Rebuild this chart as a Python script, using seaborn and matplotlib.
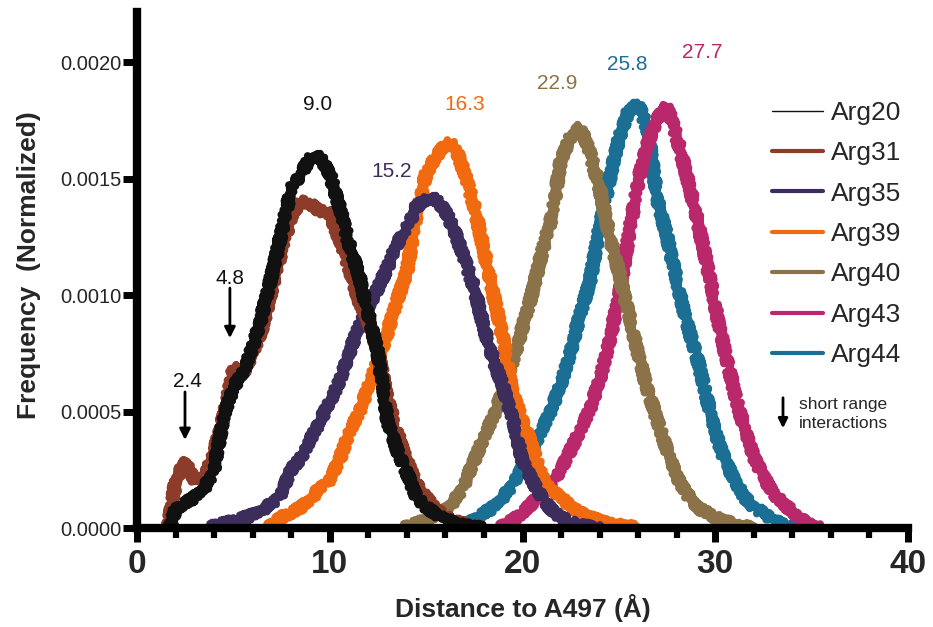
import numpy as np
import pandas as pd
import seaborn as sns
import matplotlib.pyplot as plt
from matplotlib.lines import Line2D
from matplotlib.ticker import MultipleLocator, FormatStrFormatter

# Distancia (Å) y frecuencia (x 1e-4)
dist_arg20 = [1.7, 2.0, 2.5, 3.0, 3.5, 4.0, 4.5, 5.0, 5.5, 6.0, 6.5, 7.0, 7.5, 8.0, 8.5, 9.0, 9.5,
              10.0, 10.5, 11.0, 11.5, 12.0, 12.5, 13.0, 13.5, 14.0, 14.5, 15.0, 15.5, 16.0, 16.5,
              17.0, 17.5, 18.0]
freq_arg20 = [0.0, 0.8, 1.07, 1.33, 1.72, 2.5, 4.8, 6.05, 6.65, 7.8, 9.2, 10.9, 12.7, 14.6, 15.2,
              15.9, 15.9, 15.2, 13.8, 12.2, 10.9, 9.2, 7.5, 4.6, 3.35, 2.36, 1.33, 0.9, 0.6, 0.4,
              0.2, 0.1, 0.05, 0.0]

dist_arg31 = [1.6, 2.0, 2.5, 3.0, 3.5, 4.0, 4.5, 5.0, 5.5, 6.0, 6.5, 7.0, 7.5, 8.0, 8.5, 9.0, 9.5,
              10.0, 10.5, 11.0, 11.5, 12.0, 12.5, 13.0, 13.5, 14.0, 14.5, 15.0, 15.5, 16.0, 16.5,
              17.0, 17.5, 18.0]
freq_arg31 = [0.0, 2.0, 2.9, 2.0, 2.1, 3.3, 4.8, 6.9, 6.65, 7.5, 8.6, 10.3, 11.9, 13.4, 14.0, 13.9,
              13.6, 13.5, 12.4, 11.2, 9.8, 8.9, 7.6, 5.5, 4.1, 2.9, 1.9, 1.3, 0.8, 0.5, 0.3, 0.15,
              0.05, 0.0]

dist_arg35 = [3.8, 4.0, 4.5, 5.0, 5.5, 6.0, 6.5, 7.0, 7.5, 8.0, 8.5, 9.0, 9.5, 10.0, 10.5, 11.0,
              11.5, 12.0, 12.5, 13.0, 13.5, 14.0, 14.5, 15.0, 15.5, 16.0, 16.5, 17.0, 17.5, 18.0,
              18.5, 19.0, 19.5, 20.0, 20.5, 21.0, 21.5, 22.0, 22.5, 23.0, 23.5, 24.0]
freq_arg35 = [0.0, 0.1, 0.2, 0.3, 0.43, 0.56, 0.77, 1.07, 1.5, 2.5, 3.0, 3.8, 4.6, 5.4, 6.3, 7.5,
              8.6, 9.5, 10.3, 11.2, 12.2, 12.9, 13.8, 14.1, 14.1, 13.6, 12.7, 11.5, 10.3, 8.6, 7.2,
              6.05, 4.6, 2.9, 2.06, 1.33, 0.77, 0.45, 0.25, 0.12, 0.05, 0.0]

dist_arg39 = [6.8, 7.0, 7.5, 8.0, 8.5, 9.0, 9.5, 10.0, 10.5, 11.0, 11.5, 12.0, 12.5, 13.0, 13.5,
              14.0, 14.5, 15.0, 15.5, 16.0, 16.5, 17.0, 17.5, 18.0, 18.5, 19.0, 19.5, 20.0, 20.5,
              21.0, 21.5, 22.0, 22.5, 23.0, 23.5, 24.0, 24.5, 25.0, 25.5, 26.0]
freq_arg39 = [0.0, 0.15, 0.47, 0.64, 0.9, 1.2, 1.76, 2.06, 2.9, 4.1, 4.9, 6.05, 7.2, 8.4, 9.8, 11.0,
              13.5, 15.2, 15.9, 16.5, 16.4, 15.2, 13.8, 11.9, 10.0, 8.1, 5.8, 4.6, 3.5, 2.2, 1.6,
              1.33, 0.9, 0.64, 0.47, 0.3, 0.2, 0.12, 0.06, 0.0]

dist_arg40 = [13.8, 14.0, 14.5, 15.0, 15.5, 16.0, 16.5, 17.0, 17.5, 18.0, 18.5, 19.0, 19.5, 20.0,
              20.5, 21.0, 21.5, 22.0, 22.5, 23.0, 23.5, 24.0, 24.5, 25.0, 25.5, 26.0, 26.5, 27.0,
              27.5, 28.0, 28.5, 29.0, 29.5, 30.0, 30.5, 31.0, 31.5, 32.0]
freq_arg40 = [0.0, 0.05, 0.2, 0.34, 0.56, 0.77, 1.2, 1.9, 2.9, 3.9, 4.8, 5.9, 7.2, 8.6, 10.1, 11.8,
              13.3, 15.8, 16.8, 17.2, 16.1, 14.6, 12.6, 11.0, 9.2, 7.5, 5.9, 4.6, 3.35, 2.2, 1.5,
              0.9, 0.7, 0.45, 0.3, 0.15, 0.07, 0.0]

dist_arg43 = [18.8, 19.0, 19.5, 20.0, 20.5, 21.0, 21.5, 22.0, 22.5, 23.0, 23.5, 24.0, 24.5, 25.0,
              25.5, 26.0, 26.5, 27.0, 27.5, 28.0, 28.5, 29.0, 29.5, 30.0, 30.5, 31.0, 31.5, 32.0,
              32.5, 33.0, 33.5, 34.0, 34.5, 35.0, 35.5]
freq_arg43 = [0.0, 0.1, 0.34, 0.64, 1.07, 1.5, 1.9, 2.5, 3.35, 4.2, 5.1, 6.35, 8.0, 9.9, 12.5, 14.9,
              16.5, 17.6, 18.1, 16.8, 15.2, 13.5, 11.6, 9.5, 7.6, 5.8, 4.3, 3.05, 2.2, 1.5, 1.07,
              0.7, 0.35, 0.1, 0.0]

dist_arg44 = [16.5, 17.0, 17.5, 18.0, 18.5, 19.0, 19.5, 20.0, 20.5, 21.0, 21.5, 22.0, 22.5, 23.0,
              23.5, 24.0, 24.5, 25.0, 25.5, 26.0, 26.5, 27.0, 27.5, 28.0, 28.5, 29.0, 29.5, 30.0,
              30.5, 31.0, 31.5, 32.0, 32.5, 33.0, 33.5, 34.0, 34.5]
freq_arg44 = [0.0, 0.15, 0.34, 0.64, 0.9, 1.33, 1.9, 2.6, 3.35, 4.2, 5.1, 6.2, 7.6, 9.2, 10.6, 12.9,
              14.9, 16.7, 17.9, 18.2, 17.1, 14.1, 12.5, 10.6, 8.9, 7.5, 5.8, 4.1, 2.9, 2.06, 1.33,
              0.9, 0.64, 0.35, 0.15, 0.05, 0.0]

residuos = ['Arg20', 'Arg31', 'Arg35', 'Arg39', 'Arg40', 'Arg43', 'Arg44']
colores = ['#111111', '#8c3c28', '#3d2d5c', '#f26a10', '#8c7248', '#b8286a', '#1b6f95']
series = {
    'Arg20': (dist_arg20, freq_arg20),
    'Arg31': (dist_arg31, freq_arg31),
    'Arg35': (dist_arg35, freq_arg35),
    'Arg39': (dist_arg39, freq_arg39),
    'Arg40': (dist_arg40, freq_arg40),
    'Arg43': (dist_arg43, freq_arg43),
    'Arg44': (dist_arg44, freq_arg44),
}

# etiquetas de los picos: (texto, x, y, color)
picos = [
    ('9.0', 9.38, 0.00182, '#111111'),
    ('16.3', 17.0, 0.00182, '#f26a10'),
    ('15.2', 13.2, 0.00153, '#3d2d5c'),
    ('22.9', 21.8, 0.00191, '#8c7248'),
    ('25.8', 25.44, 0.00199, '#1b6f95'),
    ('27.7', 29.3, 0.00204, '#b8286a'),
    ('4.8', 4.82, 0.00107, '#111111'),
    ('2.4', 2.64, 0.000627, '#111111'),
]

sns.set_style('ticks')
plt.rcParams['font.family'] = ['Liberation Sans', 'DejaVu Sans']

W, H = 933, 627
fig = plt.figure(figsize=(W / 100, H / 100), dpi=100)
ax = fig.add_axes([137 / W, 1 - 528 / H, (908 - 137) / W, (528 - 12) / H])

# dibujar en orden inverso para que Arg20 quede encima
for nombre in reversed(residuos):
    d, f = series[nombre]
    df = pd.DataFrame({'dist': d, 'freq': np.array(f) * 1e-4})
    color = colores[residuos.index(nombre)]
    sns.lineplot(data=df, x='dist', y='freq', color=color, lw=5.5, ax=ax, legend=False)
    # trazo "ruidoso" para imitar el histograma original
    ax.lines[-1].set_sketch_params(scale=4, length=2, randomness=1.5)

for texto, x, y, c in picos:
    ax.text(x, y, texto, color=c, fontsize=15, ha='center', va='center')

# flechas de interacciones de corto alcance
flecha = dict(arrowstyle='-|>', color='black', lw=2, mutation_scale=16, shrinkA=0, shrinkB=0)
ax.annotate('', xy=(4.82, 0.000815), xytext=(4.82, 0.00103), arrowprops=flecha)
ax.annotate('', xy=(2.49, 0.000378), xytext=(2.49, 0.000584), arrowprops=flecha)

ax.set_xlim(0, 40)
ax.set_ylim(0, 0.002215)
ax.xaxis.set_major_locator(MultipleLocator(10))
ax.xaxis.set_minor_locator(MultipleLocator(2))
ax.yaxis.set_major_locator(MultipleLocator(0.0005))
ax.yaxis.set_major_formatter(FormatStrFormatter('%.4f'))

sns.despine(ax=ax)
for s in ['left', 'bottom']:
    ax.spines[s].set_linewidth(6)
    ax.spines[s].set_color('black')
    ax.spines[s].set_zorder(5)

ax.tick_params(axis='x', which='major', length=10, width=5, labelsize=24, pad=5, color='black')
ax.tick_params(axis='x', which='minor', length=7, width=4.5, color='black')
ax.tick_params(axis='y', which='major', length=10, width=5, labelsize=14.5, pad=1, color='black')
for lab in ax.get_xticklabels():
    lab.set_fontweight('bold')

ax.set_xlabel('Distance to A497 (Å)', fontsize=19, fontweight='bold')
ax.set_ylabel('Frequency  (Normalized)', fontsize=19, fontweight='bold')
ax.xaxis.set_label_coords(0.5, -0.128)
ax.yaxis.set_label_coords(-0.1245, 0.51)

# leyenda
handles = [Line2D([], [], color=c, lw=1 if n == 'Arg20' else 3) for n, c in zip(residuos, colores)]
leg = ax.legend(handles, residuos, loc='upper left', bbox_to_anchor=(772 / W, 1 - 101 / H),
                bbox_transform=fig.transFigure, frameon=False, fontsize=19, borderpad=0,
                borderaxespad=0, handlelength=1.95, handletextpad=0.3, labelspacing=0.62)

fig.text(799 / W, 1 - 414 / H, 'short range\ninteractions', fontsize=12.5, va='center',
         ha='left', linespacing=1.35)
fig.patches.append(plt.matplotlib.patches.FancyArrowPatch(
    (783 / W, 1 - 395 / H), (783 / W, 1 - 431 / H), transform=fig.transFigure,
    arrowstyle='-|>', color='black', lw=2, mutation_scale=14))

fig.savefig('out.png', dpi=100)
